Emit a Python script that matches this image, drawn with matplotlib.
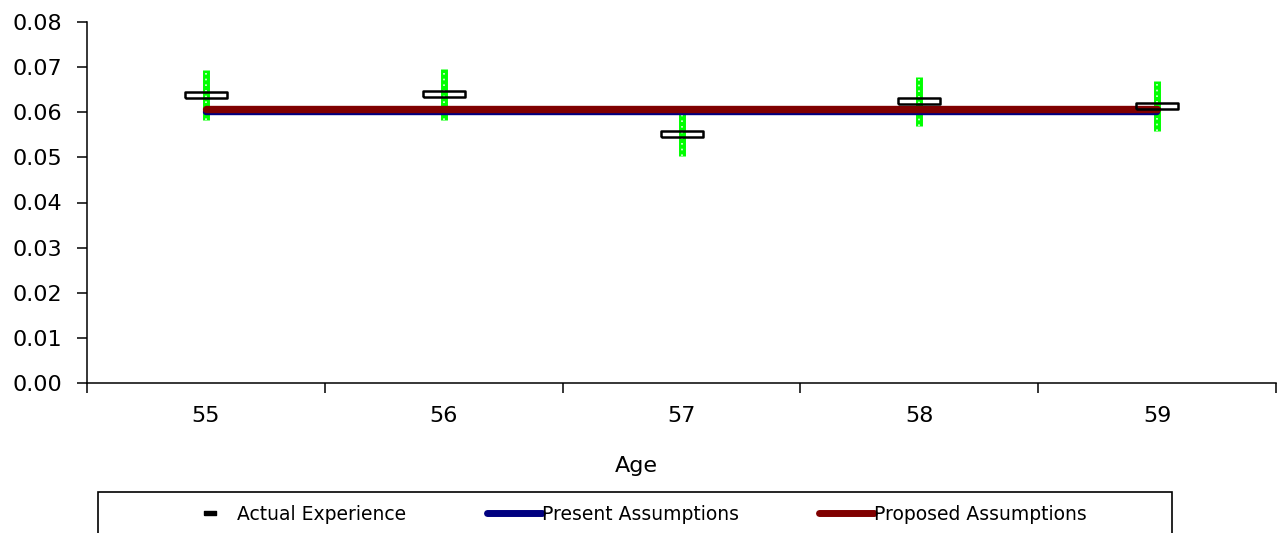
import matplotlib
matplotlib.use("Agg")
import matplotlib.pyplot as plt
from matplotlib.lines import Line2D
from matplotlib.patches import Rectangle
from matplotlib.ticker import FixedLocator, FormatStrFormatter, NullFormatter

# values
ages = ["55", "56", "57", "58", "59"]
actual = [0.0638, 0.0639, 0.0552, 0.0624, 0.0613]
actual_margin = [0.0055, 0.0056, 0.0050, 0.0054, 0.0055]
present = [0.0600, 0.0600, 0.0600, 0.0600, 0.0600]
proposed = [0.0606, 0.0606, 0.0606, 0.0606, 0.0606]

GREEN = "#00ff00"
NAVY = "#000080"
MAROON = "#800000"

plt.rcParams["font.family"] = ["DejaVu Sans"]

fig = plt.figure(figsize=(12.78, 5.33), dpi=100)
ax = fig.add_axes([87 / 1278, 1 - 383.3 / 533, (1276 - 87) / 1278, (383.3 - 21.7) / 533])

x = list(range(len(ages)))
lo = [a - m for a, m in zip(actual, actual_margin)]
hi = [a + m for a, m in zip(actual, actual_margin)]

# dotted green range bars
ax.vlines(x, lo, hi, color=GREEN, lw=5, zorder=2)
ax.vlines(x, lo, hi, color="#e6ffe6", lw=1.2, linestyles=[(0, (1, 2.4))], zorder=2.1)

ax.plot(x, present, color=NAVY, lw=4.6, solid_capstyle="round", zorder=3)
ax.plot(x, proposed, color=MAROON, lw=5.3, solid_capstyle="round", zorder=3.1)

box = [(-1, -0.15), (1, -0.15), (1, 0.15), (-1, 0.15), (-1, -0.15)]
ax.plot(x, actual, ls="none", marker=box, markersize=30, markerfacecolor="none",
        markeredgecolor="black", markeredgewidth=1.8, zorder=4)

ax.set_xlim(-0.5, len(ages) - 0.5)
ax.set_ylim(0, 0.08)
ax.set_yticks([0.00, 0.01, 0.02, 0.03, 0.04, 0.05, 0.06, 0.07, 0.08])
ax.yaxis.set_major_formatter(FormatStrFormatter("%.2f"))

ax.xaxis.set_major_locator(FixedLocator([i - 0.5 for i in range(len(ages) + 1)]))
ax.xaxis.set_major_formatter(NullFormatter())
ax.xaxis.set_minor_locator(FixedLocator(x))
ax.set_xticklabels(ages, minor=True)
ax.tick_params(axis="x", which="minor", length=0, pad=16, labelsize=16)
ax.tick_params(axis="x", which="major", length=7, width=1.1, direction="out")
ax.tick_params(axis="y", length=7, width=1.1, direction="out", pad=11, labelsize=16)

for side in ("top", "right"):
    ax.spines[side].set_visible(False)
for side in ("left", "bottom"):
    ax.spines[side].set_linewidth(1.1)
ax.patch.set_visible(False)

fig.text(636 / 1278, 1 - 466 / 533, "Age", ha="center", va="center", fontsize=16)

dash = [(-1, -0.4), (1, -0.4), (1, 0.4), (-1, 0.4), (-1, -0.4)]
handles = [
    Line2D([], [], ls="none", marker=dash, markersize=8.5, color="black"),
    Line2D([], [], color=NAVY, lw=5, solid_capstyle="round"),
    Line2D([], [], color=MAROON, lw=5, solid_capstyle="round"),
]
labels = ["Actual Experience", "Present Assumptions", "Proposed Assumptions"]
fig.legend(handles, labels, loc="center left", bbox_to_anchor=(183 / 1278, 1 - 514 / 533),
           ncol=3, frameon=False, fontsize=13.5, handlelength=2.9, handletextpad=0.0,
           columnspacing=4.3, borderpad=0, borderaxespad=0)

fig.add_artist(Rectangle((98 / 1278, -0.05), (1172 - 98) / 1278, 0.05 + 1 - 492 / 533,
                         transform=fig.transFigure, fill=False, edgecolor="black",
                         lw=1.2, clip_on=False))

fig.savefig("out.png", dpi=100)
